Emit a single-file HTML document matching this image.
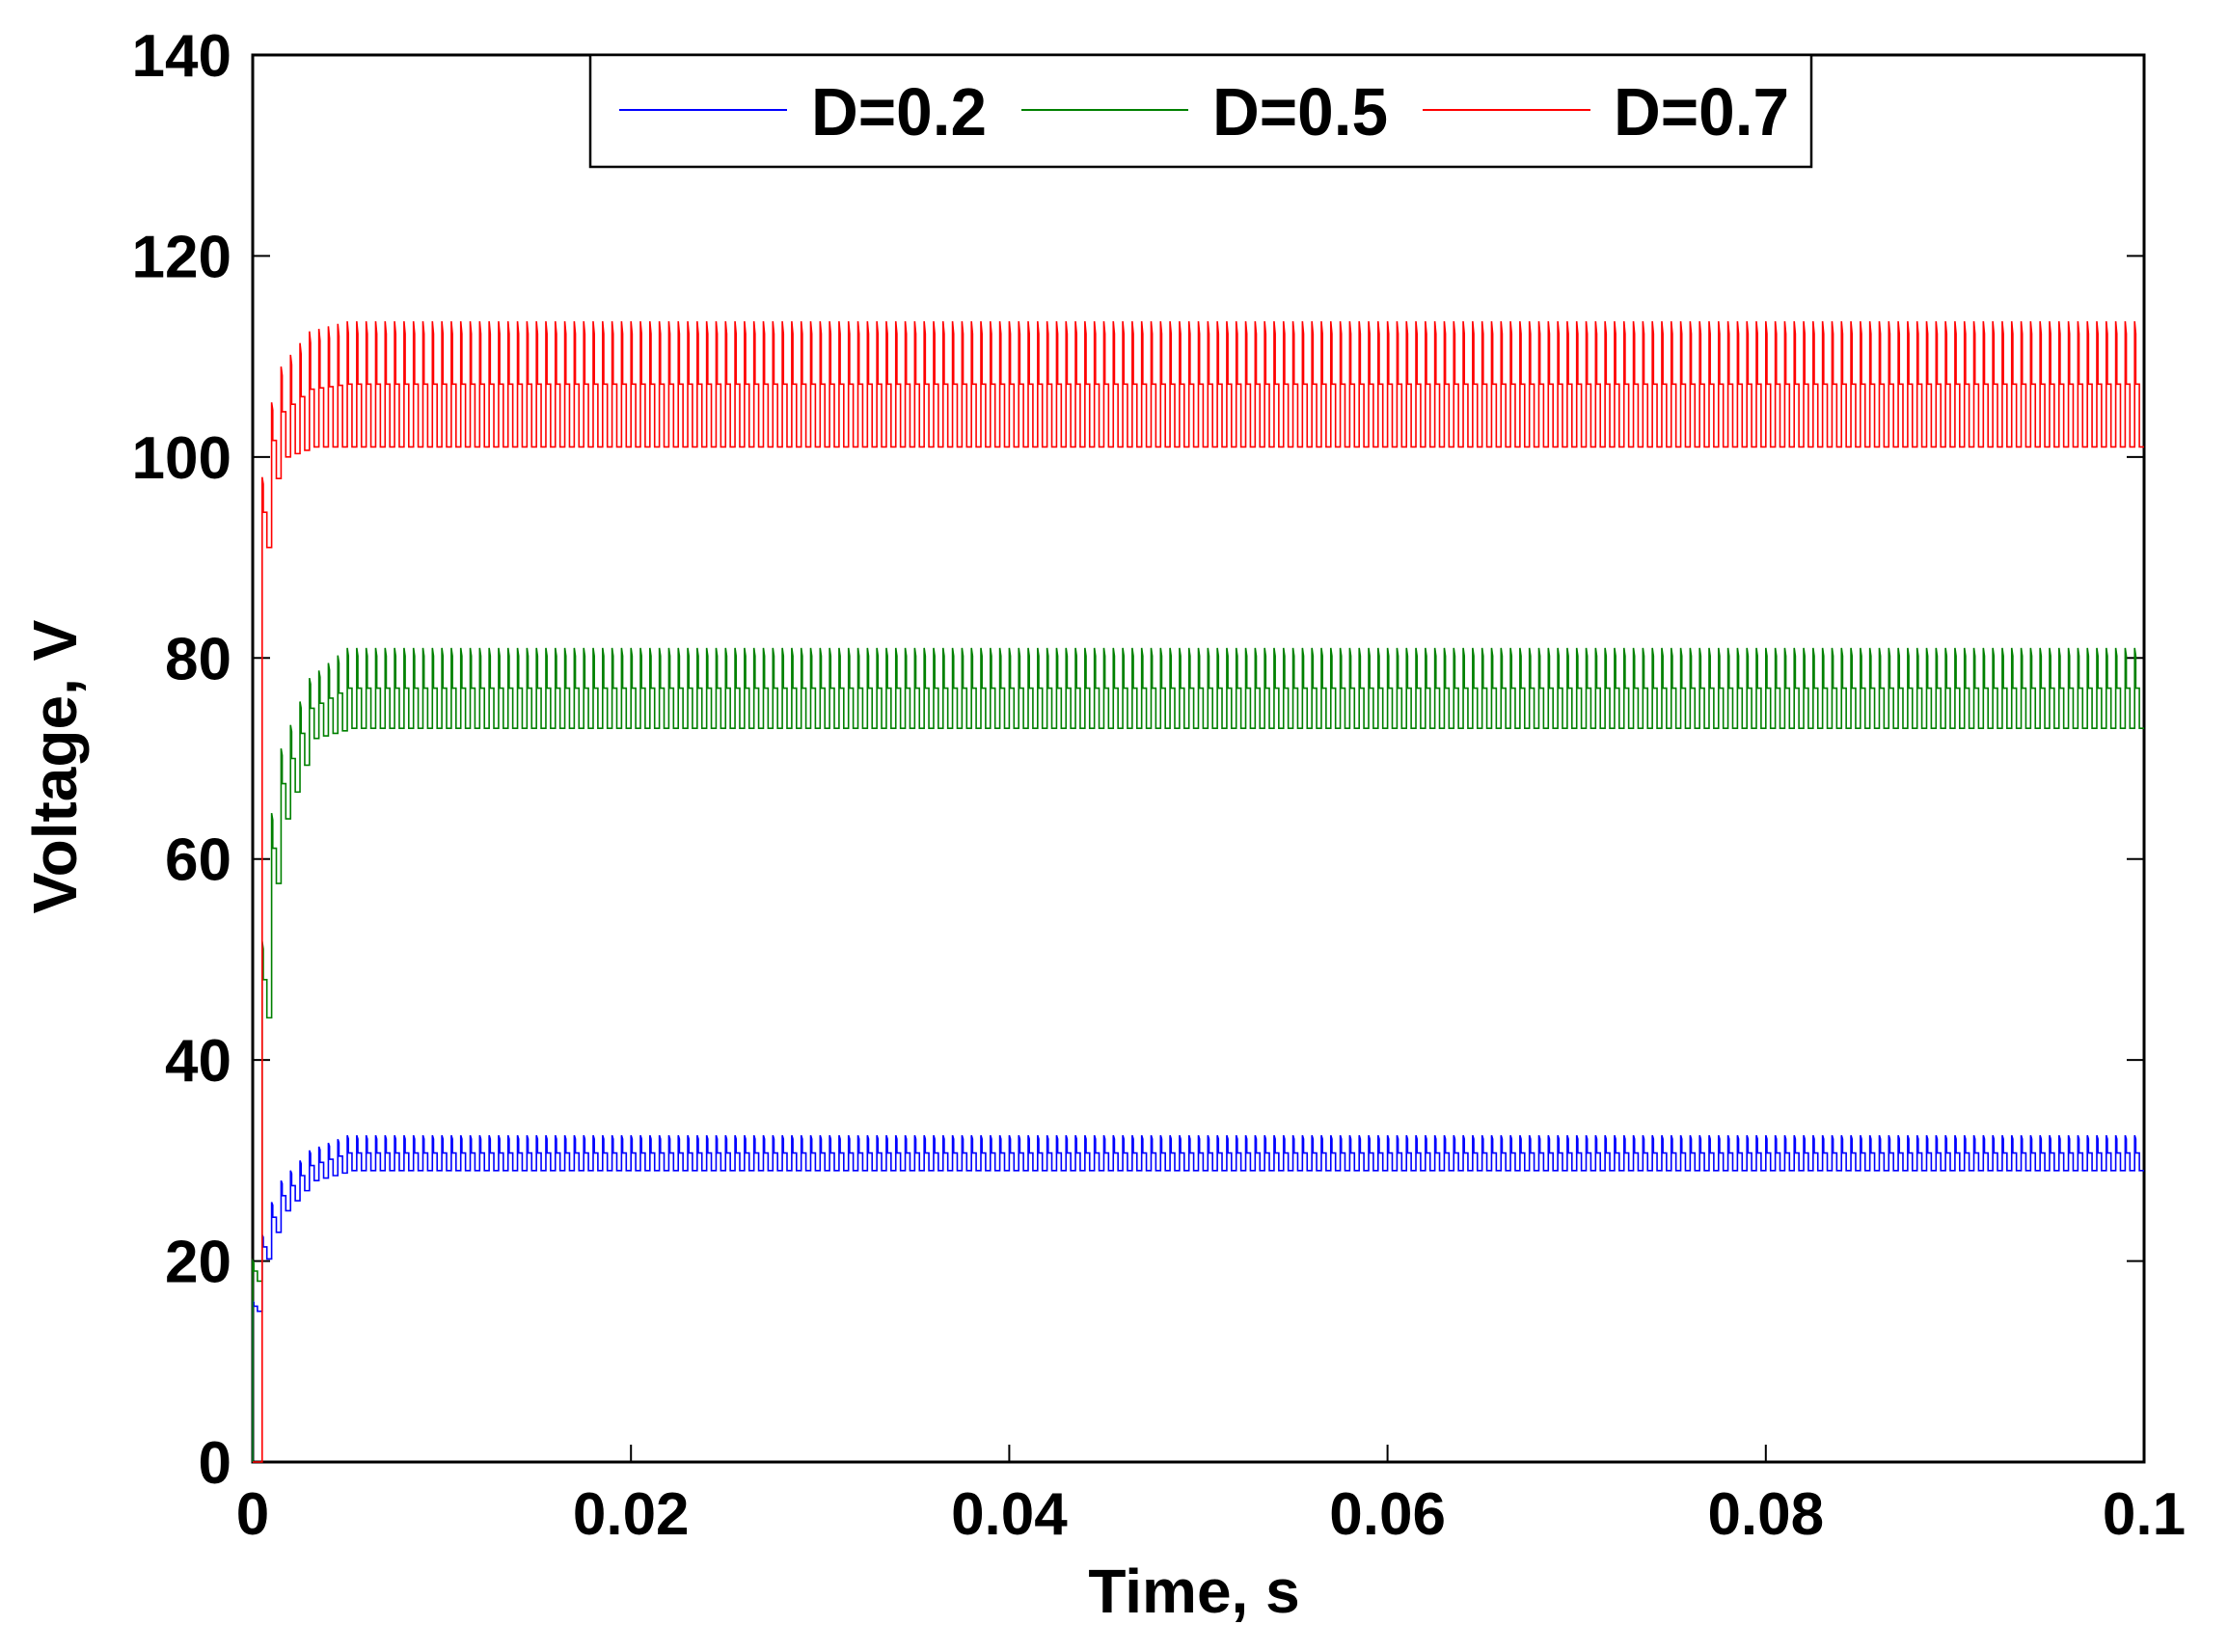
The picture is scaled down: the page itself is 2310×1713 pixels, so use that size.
<!DOCTYPE html>
<html><head><meta charset="utf-8"><style>
body{margin:0;background:#fff;}
svg{display:block;font-family:"Liberation Sans",sans-serif;font-weight:bold;}
</style></head><body>
<svg id="chart" width="2310" height="1713" xmlns="http://www.w3.org/2000/svg"></svg>
<script>
// data
const envTimes = [0, 0.0003, 0.0008, 0.0015, 0.003, 0.005, 0.1];
const redHigh = [0, 94, 104, 109, 112.5, 113.5, 113.5];
const redLow = [0, 87, 97, 100, 101, 101, 101];
const greenHigh = [20, 45, 62, 71, 78, 81, 81];
const greenLow = [18, 37, 55, 64, 72, 73, 73];
const blueHigh = [16, 21, 25, 28, 31, 32.5, 32.5];
const blueLow = [15, 19, 22, 25, 28, 29, 29];
const cycleCount = 200;
const yTicks = [0, 20, 40, 60, 80, 100, 120, 140];
const xTicks = [0, 0.02, 0.04, 0.06, 0.08, 0.1];
const xTickLabels = ["0", "0.02", "0.04", "0.06", "0.08", "0.1"];
const legendLabels = ["D=0.2", "D=0.5", "D=0.7"];

const L=262,R=2223,T=57,B=1516;
const xs=t=>L+(t/0.1)*(R-L);
const ys=v=>B-(v/140)*(B-T);
const NS="http://www.w3.org/2000/svg";
const svg=document.getElementById('chart');
function mk(tag,attrs,parent){const e=document.createElementNS(NS,tag);for(const k in attrs)e.setAttribute(k,attrs[k]);(parent||svg).appendChild(e);return e;}
function interp(arr,t){for(let i=1;i<envTimes.length;i++){if(t<=envTimes[i]){const f=(t-envTimes[i-1])/(envTimes[i]-envTimes[i-1]);return arr[i-1]+f*(arr[i]-arr[i-1]);}}return arr[arr.length-1];}

const frame=mk('rect',{x:L,y:T,width:R-L,height:B-T,fill:'none',stroke:'#000','stroke-width':3});



yTicks.forEach(v=>{
  const y=ys(v);
  const tk=mk('path',{d:`M${L} ${y}H${L+18}M${R} ${y}H${R-18}`,stroke:'#000','stroke-width':2});
  
  
  const tx=mk('text',{x:240,y:y+22,'text-anchor':'end','font-size':62});
  tx.textContent=v;
  
  
});
xTicks.forEach((t,i)=>{
  const x=xs(t);
  const tk=mk('path',{d:`M${x} ${B}V${B-18}M${x} ${T}V${T+18}`,stroke:'#000','stroke-width':2});
  
  
  const tx=mk('text',{x:x,y:1591,'text-anchor':'middle','font-size':62});
  tx.textContent=xTickLabels[i];
  
  
});

function series(hi,lo,color,name){
  let d=`M${xs(0)} ${ys(0)}`;
  const per=0.1/cycleCount;
  for(let c=0;c<cycleCount;c++){
    const t0=c*per,t1=t0+per*0.5;
    const h=interp(hi,t0),l=interp(lo,t0);
    const m=(h+l)/2;
    d+=`L${xs(t0)} ${ys(l)}L${xs(t0)} ${ys(h)}L${xs(t0+per*0.12)} ${ys(h-(h-l)*0.1)}L${xs(t0+per*0.12)} ${ys(m)}L${xs(t1)} ${ys(m)}L${xs(t1)} ${ys(l)}L${xs(t0+per)} ${ys(l)}`;
  }
  const p=mk('path',{d:d,fill:'none',stroke:color,'stroke-width':1.6});
  
  
}
series(blueHigh,blueLow,'#0000ff','series-d-0-2');
series(greenHigh,greenLow,'#008000','series-d-0-5');
series(redHigh,redLow,'#ff0000','series-d-0-7');

const lg=mk('g',{});


mk('rect',{x:612,y:57,width:1266,height:116,fill:'#fff',stroke:'#000','stroke-width':2.5},lg);
const lx=[[642,816,841],[1059,1232,1257],[1475,1649,1673]];
const lc=['#0000ff','#008000','#ff0000'];
legendLabels.forEach((s,i)=>{
  const ln=mk('line',{x1:lx[i][0],x2:lx[i][1],y1:114,y2:114,stroke:lc[i],'stroke-width':2},lg);
  
  
  const tx=mk('text',{x:lx[i][2],y:140,'font-size':70,textLength:182,lengthAdjust:'spacingAndGlyphs'},lg);
  tx.textContent=s;
  
  
});

const xt=mk('text',{x:1238,y:1672,'text-anchor':'middle','font-size':64});
xt.textContent='Time, s';


const yt=mk('text',{x:0,y:0,'text-anchor':'middle','font-size':64,transform:'translate(79,795) rotate(-90)'});
yt.textContent='Voltage, V';


</script>
</body></html>
